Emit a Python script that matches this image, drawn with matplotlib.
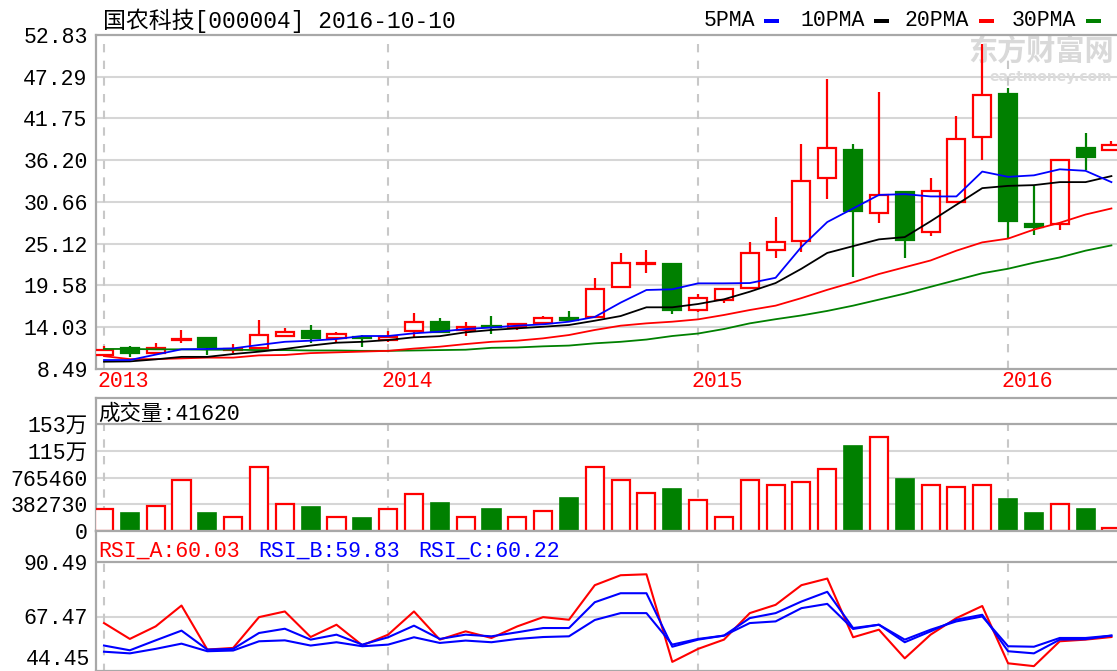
import numpy as np
import matplotlib
matplotlib.use("Agg")
import matplotlib.pyplot as plt
from matplotlib.patches import Rectangle
import matplotlib.transforms as mtransforms

FONT = ['Liberation Mono', 'Noto Sans CJK SC', 'DejaVu Sans']
plt.rcParams['font.family'] = FONT

RED = '#ff0000'
GREEN = '#008000'
BLUE = '#0000ff'
GRID = '#d6d6d6'
FRAME = '#a8a8a8'

# monthly candles, 国农科技 000004
opens = [10.35, 11.28, 10.65, 12.35, 12.56, 11.05, 11.23, 12.90, 13.54, 12.65,
         12.70, 12.36, 13.47, 14.77, 13.66, 14.15, 14.10, 14.60, 15.20, 15.35,
         19.33, 22.40, 22.39, 16.33, 17.65, 19.20, 24.29, 25.50, 33.80, 37.58,
         29.20, 31.95, 26.70, 30.70, 39.34, 44.96, 27.70, 27.70, 37.80, 37.58]
highs = [11.50, 11.55, 11.98, 13.67, 12.78, 11.80, 14.99, 13.97, 14.33, 13.35,
         13.00, 13.47, 15.96, 15.20, 14.77, 15.50, 14.65, 15.50, 16.23, 20.61,
         23.84, 24.29, 22.60, 18.40, 19.10, 25.30, 28.70, 38.30, 46.95, 38.32,
         45.20, 31.95, 33.90, 42.08, 51.60, 45.76, 32.74, 36.20, 39.80, 38.76]
lows = [10.20, 10.12, 10.35, 11.90, 10.35, 10.57, 11.10, 12.85, 11.90, 11.98,
        11.45, 12.10, 12.78, 13.40, 12.87, 13.14, 13.67, 14.50, 14.90, 15.20,
        19.30, 21.20, 15.80, 16.10, 17.30, 19.10, 23.19, 24.06, 31.06, 20.73,
        27.83, 23.19, 26.15, 30.57, 36.20, 25.75, 26.28, 26.94, 34.90, 37.58]
closes = [11.00, 10.60, 11.25, 12.50, 11.45, 11.15, 13.00, 13.45, 12.65, 13.20,
          12.60, 12.80, 14.68, 13.44, 14.10, 14.05, 14.40, 15.20, 14.99, 19.07,
          22.59, 22.60, 16.33, 17.90, 19.07, 23.90, 25.30, 33.40, 37.80, 29.40,
          31.60, 25.60, 32.10, 39.00, 44.87, 28.14, 27.38, 36.20, 36.70, 38.20]

ma5 = [9.68, 9.68, 10.40, 11.10, 11.15, 11.23, 11.68, 12.10, 12.25, 12.47,
       12.87, 12.87, 13.23, 13.45, 13.80, 14.00, 14.24, 14.42, 14.77, 15.40,
       17.30, 18.98, 19.07, 19.86, 19.86, 19.90, 20.60, 24.70, 28.00, 29.80,
       31.60, 31.70, 31.40, 31.40, 34.70, 34.00, 34.20, 35.00, 34.80, 33.30]
ma10 = [9.46, 9.50, 9.77, 10.10, 10.10, 10.48, 10.79, 11.15, 11.60, 11.98,
        12.10, 12.34, 12.70, 12.85, 13.36, 13.67, 13.89, 14.10, 14.33, 14.90,
        15.52, 16.68, 16.68, 17.12, 17.74, 18.75, 19.90, 21.80, 23.90, 24.80,
        25.70, 26.00, 28.10, 30.30, 32.50, 32.80, 32.90, 33.30, 33.30, 34.10]
ma20 = [10.20, 9.80, 9.80, 9.90, 10.00, 10.00, 10.30, 10.35, 10.60, 10.70,
        10.80, 10.90, 11.20, 11.45, 11.80, 12.10, 12.25, 12.56, 13.00, 13.67,
        14.24, 14.55, 14.77, 15.08, 15.66, 16.32, 16.90, 17.90, 19.00, 20.00,
        21.10, 22.00, 22.90, 24.20, 25.30, 25.80, 27.00, 27.90, 29.00, 29.80]
ma30 = [11.15, 11.15, 11.10, 11.10, 11.05, 11.05, 11.00, 11.00, 10.95, 10.95,
        10.90, 10.90, 10.95, 11.00, 11.05, 11.30, 11.35, 11.50, 11.60, 11.90,
        12.10, 12.40, 12.87, 13.20, 13.80, 14.55, 15.10, 15.60, 16.20, 16.90,
        17.70, 18.50, 19.40, 20.30, 21.20, 21.80, 22.60, 23.30, 24.20, 24.90]

volume = [314800, 262000, 362000, 730000, 262000, 200000, 920000, 386000, 343000, 200000,
          186000, 314800, 525000, 396000, 200000, 319000, 200000, 282000, 476000, 920000,
          730000, 548000, 605000, 443600, 205000, 730000, 654000, 705000, 891000, 1216000,
          1341000, 740000, 654000, 630000, 654000, 453000, 262000, 386000, 319000, 41620]

rsi_a = [64.7, 58.0, 63.3, 72.1, 53.5, 54.2, 67.2, 69.6, 58.8, 64.0,
         55.3, 59.8, 69.6, 57.7, 61.2, 58.4, 63.3, 67.2, 66.1, 80.7,
         84.9, 85.3, 48.3, 53.8, 57.7, 68.9, 72.4, 80.7, 83.5, 58.7,
         61.9, 49.8, 59.8, 66.8, 71.9, 47.7, 46.5, 57.0, 57.7, 58.8]
rsi_b = [55.2, 53.2, 57.4, 61.5, 53.5, 53.8, 60.5, 62.3, 57.7, 59.8,
         55.6, 58.7, 63.6, 58.0, 59.8, 59.1, 60.8, 62.6, 62.6, 73.5,
         77.3, 77.3, 54.7, 57.7, 59.4, 66.8, 68.9, 73.8, 77.9, 62.6,
         64.0, 56.6, 61.2, 66.1, 68.2, 52.8, 51.9, 57.7, 57.9, 59.4]
rsi_c = [52.6, 51.9, 53.8, 56.0, 52.8, 53.1, 57.0, 57.4, 55.2, 56.6,
         54.9, 55.6, 58.7, 56.3, 57.3, 56.6, 58.0, 58.8, 59.1, 66.0,
         68.9, 68.9, 55.6, 58.0, 59.4, 64.7, 65.4, 71.0, 72.8, 62.2,
         64.0, 57.7, 61.9, 65.4, 67.5, 54.9, 54.7, 58.4, 58.4, 59.4]

year_pos = [0, 11, 23, 35]
year_labels = ['2013', '2014', '2015', '2016']
price_ticks = [8.49, 14.03, 19.58, 25.12, 30.66, 36.20, 41.75, 47.29, 52.83]
vol_ticks = [0, 382730, 765460, 1148190, 1530920]
vol_labels = ['0', '382730', '765460', '115万', '153万']
rsi_ticks = [67.47, 90.49]

W, H = 1117, 671
fig = plt.figure(figsize=(W / 100, H / 100), dpi=100)
fig.patch.set_facecolor('white')


def px_axes(top, bottom):
    left = 96
    return fig.add_axes([left / W, 1 - bottom / H, 1 - left / W + 0.001, (bottom - top) / H])


x = np.arange(len(closes))
xlim = (-0.31, 39.26)
FS = 15.5
AXW = W - 96

ax = px_axes(35, 369)
axv = px_axes(398, 531)
axr = px_axes(531, 671)

for a in (ax, axv, axr):
    a.set_xlim(*xlim)
    a.set_xticks([])
    a.tick_params(axis='y', length=0, pad=6, labelsize=FS)
    a.spines['right'].set_visible(False)
    for s in ('left', 'top', 'bottom'):
        a.spines[s].set_color(FRAME)
        a.spines[s].set_linewidth(1.6)
    a.set_facecolor('white')

# ---- price panel ----
ax.set_ylim(8.49, 52.83)
ax.set_yticks(price_ticks)
ax.set_yticklabels(['%.2f' % v for v in price_ticks])
for v in price_ticks[1:-1]:
    ax.axhline(v, color=GRID, lw=1.5, zorder=0)
for p in year_pos:
    ax.axvline(p, color='#c8c8c8', lw=1.5, ls=(0, (4, 4)), zorder=0)

# watermark
ax.text((1113 - 96) / AXW, 1 - 16 / 334, '东方财富网', transform=ax.transAxes, fontsize=21,
        fontweight='bold', color='#d9d9d9', ha='right', va='center',
        family=['Noto Sans CJK SC'], zorder=0)
ax.text((1111 - 96) / AXW, 1 - 42 / 334, 'eastmoney.com', transform=ax.transAxes, fontsize=10,
        fontweight='bold', color='#dcdcdc', ha='right', va='center',
        family=['DejaVu Sans'], zorder=0)

bw = 0.7
for i in range(len(closes)):
    o, h, l, c = opens[i], highs[i], lows[i], closes[i]
    if c >= o:
        ax.vlines(i, c, h, color=RED, lw=1.6, zorder=2)
        ax.vlines(i, l, o, color=RED, lw=1.6, zorder=2)
        ax.add_patch(Rectangle((i - bw / 2, o), bw, max(c - o, 0.02), facecolor='white',
                               edgecolor=RED, lw=1.6, zorder=3))
    else:
        ax.vlines(i, l, h, color=GREEN, lw=1.6, zorder=2)
        ax.add_patch(Rectangle((i - bw / 2, c), bw, max(o - c, 0.02), facecolor=GREEN,
                               edgecolor=GREEN, lw=1.6, zorder=3))

ax.plot(x, ma30, color=GREEN, lw=1.3, zorder=4)
ax.plot(x, ma20, color=RED, lw=1.3, zorder=4)
ax.plot(x, ma10, color='black', lw=1.3, zorder=4)
ax.plot(x, ma5, color=BLUE, lw=1.3, zorder=4)

trans = mtransforms.blended_transform_factory(ax.transData, ax.transAxes)
for p, lab in zip(year_pos, year_labels):
    ax.text(p - 0.27, -0.036, lab, transform=trans, color=RED, fontsize=FS,
            ha='left', va='center')

fig.text(103 / W, 1 - 21 / H, '国农科技[000004] 2016-10-10', fontsize=16.5,
         ha='left', va='center', family=FONT)

legend = [('5PMA', BLUE, 704), ('10PMA', 'black', 800), ('20PMA', RED, 905), ('30PMA', GREEN, 1012)]
for name, col, x0 in legend:
    fig.text(x0 / W, 1 - 21 / H, name, fontsize=FS, ha='left', va='center')
    x1 = x0 + 13.3 * len(name) + 7
    fig.patches.append(Rectangle((x1 / W, 1 - 23 / H), 15 / W, 4 / H, transform=fig.transFigure,
                                 facecolor=col, edgecolor='none'))

# ---- volume panel ----
vtop = 1530920 * (531 - 398) / (531 - 424)
axv.set_ylim(0, vtop)
axv.set_yticks(vol_ticks)
axv.set_yticklabels(vol_labels)
axv.axhline(1530920, color=FRAME, lw=1.6, zorder=1)
for v in vol_ticks[1:-1]:
    axv.axhline(v, color=GRID, lw=1.5, zorder=0)
for p in year_pos:
    axv.plot([p, p], [0, 1530920], color='#c8c8c8', lw=1.5, ls=(0, (4, 4)), zorder=0)
for i in range(len(volume)):
    if closes[i] >= opens[i]:
        axv.add_patch(Rectangle((i - bw / 2, 0), bw, volume[i], facecolor='white',
                                edgecolor=RED, lw=1.6, zorder=3))
    else:
        axv.add_patch(Rectangle((i - bw / 2, 0), bw, volume[i], facecolor=GREEN,
                                edgecolor=GREEN, lw=1.2, zorder=3))
axv.text(2 / AXW, 1 - 16 / 133, '成交量:41620', transform=axv.transAxes, fontsize=FS,
         ha='left', va='center')

# ---- RSI panel ----
rtop = 90.49 + (562 - 531) * (90.49 - 44.45) / (671 - 562)
axr.set_ylim(44.45, rtop)
axr.set_yticks(rsi_ticks)
axr.set_yticklabels(['%.2f' % v for v in rsi_ticks])
axr.text(-6 / AXW, 44.45 + 0.6, '44.45', transform=mtransforms.blended_transform_factory(
    axr.transAxes, axr.transData), fontsize=FS, ha='right', va='bottom')
axr.axhline(90.49, color=FRAME, lw=1.6, zorder=1)
axr.axhline(67.47, color=GRID, lw=1.5, zorder=0)
for p in year_pos:
    axr.plot([p, p], [40, 90.49], color='#c8c8c8', lw=1.5, ls=(0, (4, 4)), zorder=0)
axr.plot(x, rsi_a, color=RED, lw=1.5, zorder=3)
axr.plot(x, rsi_b, color=BLUE, lw=1.5, zorder=4)
axr.plot(x, rsi_c, color=BLUE, lw=1.5, zorder=4)

ry = 1 - 20 / 140
axr.text(2 / AXW, ry, 'RSI_A:60.03', transform=axr.transAxes, color=RED,
         fontsize=FS, ha='left', va='center')
axr.text(162 / AXW, ry, 'RSI_B:59.83', transform=axr.transAxes, color=BLUE,
         fontsize=FS, ha='left', va='center')
axr.text(322 / AXW, ry, 'RSI_C:60.22', transform=axr.transAxes, color=BLUE,
         fontsize=FS, ha='left', va='center')

fig.savefig('out.png', dpi=100, facecolor='white')
